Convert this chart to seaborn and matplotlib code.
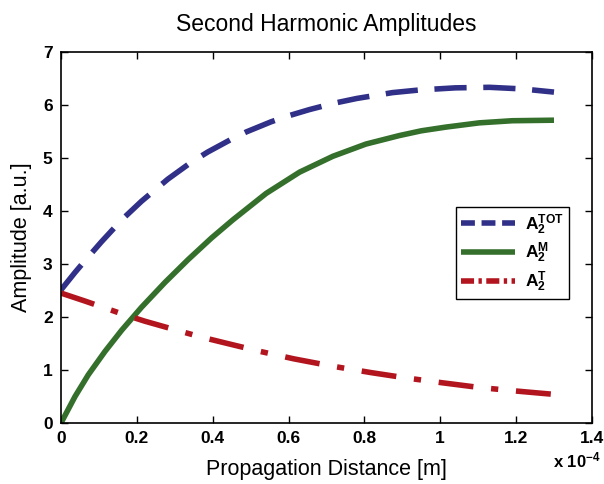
import numpy as np
import pandas as pd
import matplotlib
matplotlib.use("Agg")
import matplotlib.pyplot as plt
from matplotlib.ticker import FuncFormatter
import seaborn as sns

# ---- data, distances in units of 1e-4 m ----
dist_tot = [0.0, 0.037, 0.063, 0.107, 0.16, 0.212, 0.282, 0.344, 0.387, 0.449, 0.489,
            0.554, 0.594, 0.655, 0.72, 0.78, 0.84, 0.874, 0.945, 1.04, 1.13, 1.216, 1.30]
amp_tot = [2.51, 2.84, 3.06, 3.42, 3.83, 4.18, 4.60, 4.92, 5.11, 5.35, 5.49,
           5.68, 5.78, 5.91, 6.03, 6.12, 6.19, 6.23, 6.28, 6.32, 6.33, 6.30, 6.24]

dist_m = [0.0, 0.037, 0.072, 0.116, 0.16, 0.212, 0.274, 0.335, 0.397, 0.453,
          0.541, 0.629, 0.717, 0.804, 0.892, 0.95, 1.015, 1.103, 1.19, 1.30]
amp_m = [0.0, 0.50, 0.91, 1.35, 1.75, 2.18, 2.65, 3.08, 3.49, 3.83,
         4.33, 4.73, 5.03, 5.26, 5.42, 5.51, 5.58, 5.66, 5.70, 5.71]

dist_t = [0.0, 0.063, 0.16, 0.221, 0.30, 0.37, 0.427, 0.519, 0.614, 0.717, 0.818,
          0.91, 1.004, 1.103, 1.205, 1.30]
amp_t = [2.45, 2.30, 2.06, 1.92, 1.76, 1.62, 1.52, 1.36, 1.21, 1.07, 0.95,
         0.85, 0.76, 0.67, 0.60, 0.54]

scale = 1e-4
labels = [r"$\mathbf{A_2^{TOT}}$", r"$\mathbf{A_2^{M}}$", r"$\mathbf{A_2^{T}}$"]
x_ticks = [0, 0.2, 0.4, 0.6, 0.8, 1.0, 1.2, 1.4]
y_ticks = [0, 1, 2, 3, 4, 5, 6, 7]

sns.set_style("white")
plt.rcParams["font.family"] = ["Liberation Sans", "DejaVu Sans"]
plt.rcParams["text.color"] = "black"
plt.rcParams["axes.labelcolor"] = "black"
plt.rcParams["xtick.color"] = "black"
plt.rcParams["ytick.color"] = "black"
plt.rcParams["mathtext.fontset"] = "custom"
plt.rcParams["mathtext.rm"] = "Liberation Sans"
plt.rcParams["mathtext.bf"] = "Liberation Sans:bold"
plt.rcParams["mathtext.it"] = "Liberation Sans:italic"

fig = plt.figure(figsize=(6.04, 4.84), dpi=100)
ax = fig.add_axes([0.101, 0.126, 0.879, 0.767])

blue = "#303088"
green = "#346f2c"
red = "#b3151f"
lw = 4.0

df_tot = pd.DataFrame({"x": np.array(dist_tot) * scale, "y": amp_tot})
df_m = pd.DataFrame({"x": np.array(dist_m) * scale, "y": amp_m})
df_t = pd.DataFrame({"x": np.array(dist_t) * scale, "y": amp_t})

sns.lineplot(data=df_tot, x="x", y="y", ax=ax, color=blue, linewidth=lw,
             linestyle=(0, (5.8, 3.0)), label=labels[0], sort=False)
sns.lineplot(data=df_m, x="x", y="y", ax=ax, color=green, linewidth=lw,
             linestyle="-", label=labels[1], sort=False)
sns.lineplot(data=df_t, x="x", y="y", ax=ax, color=red, linewidth=lw,
             linestyle=(0, (6.3, 3.2, 1.3, 3.2)), label=labels[2], sort=False)
for ln in ax.get_lines():
    ln.set_solid_capstyle("butt")
    ln.set_dash_capstyle("butt")
    ln.set_solid_joinstyle("round")
    ln.set_dash_joinstyle("round")

ax.set_xlim(0, 1.4 * scale)
ax.set_ylim(0, 7)
ax.set_xticks([t * scale for t in x_ticks])
ax.set_yticks(y_ticks)

ax.xaxis.set_major_formatter(FuncFormatter(lambda v, p: f"{round(v / scale, 6):g}"))
ax.yaxis.set_major_formatter(FuncFormatter(lambda v, p: f"{v:g}"))

ax.tick_params(direction="in", length=5, width=1, top=True, right=True,
               bottom=True, left=True, labelsize=12.5, colors="black", pad=6)
for lab in ax.get_xticklabels() + ax.get_yticklabels():
    lab.set_fontweight("bold")
for sp in ax.spines.values():
    sp.set_visible(True)
    sp.set_color("black")
    sp.set_linewidth(1.2)

ax.set_title("Second Harmonic Amplitudes", fontsize=16.5, pad=15, color="black")
ax.set_xlabel("Propagation Distance [m]", fontsize=15.5, labelpad=9)
ax.set_ylabel("Amplitude [a.u.]", fontsize=15.5, labelpad=8)

ax.text(1.017, -0.075, r"x 10$^{\mathbf{-4}}$", transform=ax.transAxes, ha="right", va="top",
        fontsize=12, fontweight="bold")

leg = ax.legend(loc="upper left", bbox_to_anchor=(0.744, 0.582), fontsize=12.5,
                frameon=True, fancybox=False, edgecolor="black", framealpha=1,
                handlelength=3.1, handletextpad=0.55, borderpad=0.3, labelspacing=0.25,
                borderaxespad=0)
leg.get_frame().set_linewidth(1.0)
hs = leg.legend_handles
hs[0].set_dashes((2.5, 1.2))
hs[2].set_dashes((2.35, 0.8, 0.6, 0.8))
for h in hs:
    h.set_dash_capstyle("butt")
    h.set_solid_capstyle("butt")

fig.savefig("out.png", dpi=100)
